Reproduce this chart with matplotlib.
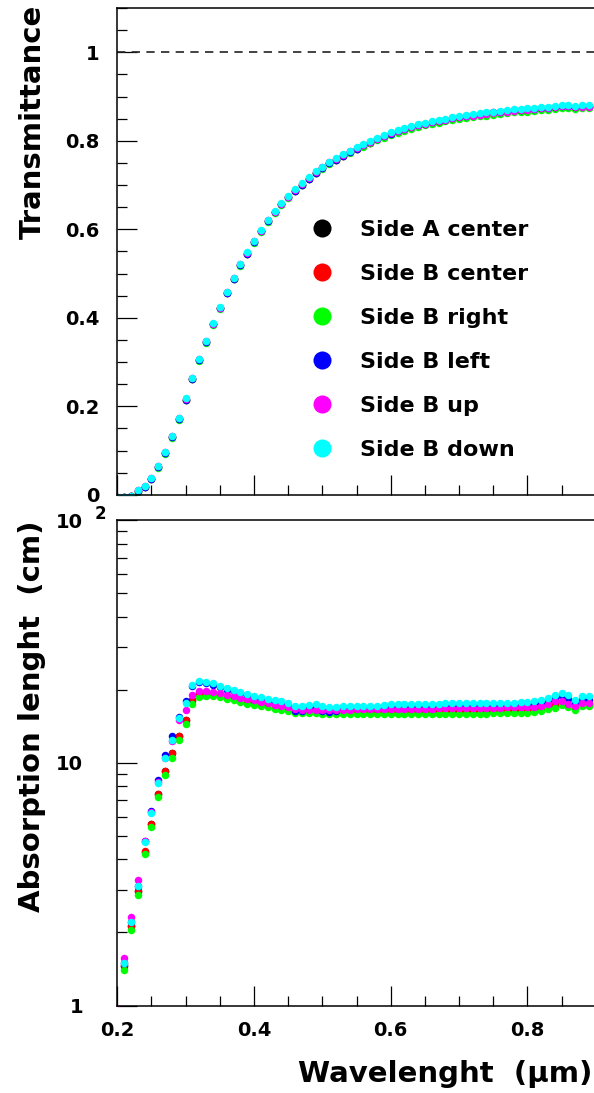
import matplotlib
matplotlib.use("Agg")
import matplotlib.pyplot as plt
from matplotlib import ticker
from matplotlib.lines import Line2D

plt.rcParams['font.family'] = ['DejaVu Sans']
plt.rcParams['font.weight'] = 'bold'
plt.rcParams['axes.labelweight'] = 'bold'

# wavelength grid (um)
wavelength = [0.20, 0.21, 0.22, 0.23, 0.24, 0.25, 0.26, 0.27, 0.28, 0.29,
              0.30, 0.31, 0.32, 0.33, 0.34, 0.35, 0.36, 0.37, 0.38, 0.39,
              0.40, 0.41, 0.42, 0.43, 0.44, 0.45, 0.46, 0.47, 0.48, 0.49,
              0.50, 0.51, 0.52, 0.53, 0.54, 0.55, 0.56, 0.57, 0.58, 0.59,
              0.60, 0.61, 0.62, 0.63, 0.64, 0.65, 0.66, 0.67, 0.68, 0.69,
              0.70, 0.71, 0.72, 0.73, 0.74, 0.75, 0.76, 0.77, 0.78, 0.79,
              0.80, 0.81, 0.82, 0.83, 0.84, 0.85, 0.86, 0.87, 0.88, 0.89]

labels = ['Side A center', 'Side B center', 'Side B right',
          'Side B left', 'Side B up', 'Side B down']
colors = ['#000000', '#ff0000', '#00ff00', '#0000ff', '#ff00ff', '#00ffff']

# transmittance
T_a_center = [-0.005, -0.004, -0.003, 0.008, 0.018, 0.036, 0.062, 0.094, 0.130, 0.171,
              0.215, 0.262, 0.304, 0.345, 0.385, 0.421, 0.456, 0.488, 0.519, 0.545,
              0.571, 0.595, 0.618, 0.638, 0.656, 0.672, 0.687, 0.701, 0.714, 0.728,
              0.738, 0.749, 0.757, 0.766, 0.774, 0.782, 0.789, 0.796, 0.803, 0.809,
              0.815, 0.820, 0.825, 0.829, 0.833, 0.837, 0.840, 0.843, 0.846, 0.849,
              0.852, 0.854, 0.856, 0.858, 0.860, 0.862, 0.864, 0.865, 0.867, 0.868,
              0.869, 0.870, 0.872, 0.873, 0.875, 0.877, 0.877, 0.875, 0.876, 0.876]
T_b_center = [-0.005, -0.004, -0.003, 0.008, 0.018, 0.036, 0.062, 0.094, 0.130, 0.171,
              0.215, 0.262, 0.304, 0.345, 0.385, 0.421, 0.456, 0.488, 0.519, 0.545,
              0.571, 0.595, 0.618, 0.638, 0.656, 0.672, 0.687, 0.701, 0.714, 0.728,
              0.738, 0.749, 0.757, 0.766, 0.774, 0.782, 0.789, 0.796, 0.803, 0.809,
              0.815, 0.820, 0.825, 0.829, 0.833, 0.837, 0.840, 0.843, 0.846, 0.849,
              0.852, 0.854, 0.856, 0.858, 0.860, 0.862, 0.864, 0.865, 0.867, 0.868,
              0.869, 0.870, 0.872, 0.873, 0.875, 0.877, 0.877, 0.875, 0.876, 0.876]
T_b_right = [-0.005, -0.004, -0.003, 0.007, 0.017, 0.035, 0.061, 0.093, 0.129, 0.170,
             0.214, 0.261, 0.303, 0.344, 0.384, 0.420, 0.455, 0.487, 0.518, 0.544,
             0.570, 0.594, 0.617, 0.637, 0.655, 0.671, 0.686, 0.700, 0.713, 0.727,
             0.737, 0.748, 0.756, 0.765, 0.773, 0.781, 0.787, 0.794, 0.801, 0.807,
             0.813, 0.818, 0.823, 0.827, 0.831, 0.835, 0.838, 0.841, 0.844, 0.847,
             0.849, 0.851, 0.853, 0.855, 0.857, 0.859, 0.861, 0.862, 0.864, 0.865,
             0.866, 0.867, 0.869, 0.870, 0.872, 0.874, 0.874, 0.872, 0.873, 0.873]
T_b_left = [-0.005, -0.004, -0.003, 0.008, 0.018, 0.036, 0.062, 0.094, 0.130, 0.171,
            0.215, 0.262, 0.304, 0.345, 0.385, 0.421, 0.456, 0.488, 0.519, 0.545,
            0.571, 0.595, 0.618, 0.638, 0.656, 0.672, 0.687, 0.701, 0.714, 0.728,
            0.738, 0.749, 0.757, 0.766, 0.774, 0.782, 0.790, 0.797, 0.804, 0.810,
            0.816, 0.822, 0.827, 0.831, 0.835, 0.839, 0.842, 0.845, 0.848, 0.851,
            0.854, 0.856, 0.858, 0.860, 0.862, 0.864, 0.866, 0.867, 0.869, 0.870,
            0.871, 0.872, 0.874, 0.875, 0.877, 0.879, 0.879, 0.877, 0.878, 0.878]
T_b_up = [-0.005, -0.004, -0.003, 0.010, 0.020, 0.038, 0.064, 0.096, 0.132, 0.173,
          0.217, 0.264, 0.306, 0.347, 0.387, 0.423, 0.458, 0.490, 0.521, 0.547,
          0.573, 0.597, 0.620, 0.640, 0.658, 0.674, 0.689, 0.703, 0.716, 0.730,
          0.740, 0.751, 0.759, 0.768, 0.776, 0.784, 0.791, 0.798, 0.805, 0.811,
          0.817, 0.822, 0.827, 0.831, 0.835, 0.839, 0.842, 0.845, 0.848, 0.851,
          0.853, 0.855, 0.857, 0.859, 0.861, 0.863, 0.865, 0.866, 0.868, 0.869,
          0.870, 0.871, 0.873, 0.874, 0.876, 0.878, 0.878, 0.876, 0.877, 0.877]
T_b_down = [-0.005, -0.004, -0.003, 0.011, 0.021, 0.039, 0.065, 0.097, 0.133, 0.174,
            0.218, 0.265, 0.307, 0.348, 0.388, 0.424, 0.459, 0.491, 0.522, 0.548,
            0.574, 0.598, 0.621, 0.641, 0.659, 0.675, 0.690, 0.704, 0.717, 0.731,
            0.741, 0.752, 0.760, 0.769, 0.777, 0.785, 0.793, 0.800, 0.807, 0.813,
            0.819, 0.824, 0.829, 0.833, 0.837, 0.841, 0.844, 0.847, 0.850, 0.853,
            0.856, 0.858, 0.860, 0.862, 0.864, 0.866, 0.868, 0.869, 0.871, 0.872,
            0.873, 0.874, 0.876, 0.877, 0.879, 0.881, 0.881, 0.879, 0.880, 0.880]

# absorption length (cm)
L_a_center = [0.93, 1.46, 2.12, 2.96, 4.30, 5.60, 7.45, 9.25, 10.95, 12.90,
              15.0, 18.1, 19.3, 19.4, 19.3, 19.0, 18.7, 18.4, 18.2, 17.9,
              17.7, 17.5, 17.3, 17.1, 16.9, 16.7, 16.4, 16.3, 16.3, 16.3,
              16.2, 16.2, 16.2, 16.25, 16.3, 16.3, 16.3, 16.35, 16.35, 16.35,
              16.4, 16.4, 16.4, 16.4, 16.4, 16.4, 16.45, 16.45, 16.45, 16.45,
              16.5, 16.5, 16.5, 16.5, 16.5, 16.55, 16.55, 16.55, 16.55, 16.6,
              16.6, 16.65, 16.75, 17.05, 17.45, 17.55, 17.05, 16.75, 17.35, 17.35]
L_b_center = [0.93, 1.47, 2.13, 2.95, 4.31, 5.61, 7.43, 9.21, 10.96, 12.92,
              15.04, 18.2, 19.4, 19.5, 19.3, 19.1, 18.8, 18.5, 18.2, 18.0,
              17.8, 17.5, 17.3, 17.1, 16.9, 16.75, 16.4, 16.3, 16.3, 16.3,
              16.2, 16.2, 16.2, 16.3, 16.3, 16.35, 16.35, 16.35, 16.35, 16.4,
              16.4, 16.4, 16.4, 16.4, 16.4, 16.45, 16.45, 16.45, 16.45, 16.5,
              16.5, 16.5, 16.5, 16.5, 16.55, 16.55, 16.55, 16.55, 16.6, 16.6,
              16.6, 16.7, 16.8, 17.1, 17.5, 17.6, 17.1, 16.8, 17.4, 17.4]
L_b_right = [0.90, 1.40, 2.05, 2.86, 4.21, 5.43, 7.22, 8.92, 10.45, 12.44,
             14.44, 17.4, 18.6, 18.9, 18.8, 18.6, 18.3, 18.1, 17.75, 17.5,
             17.35, 17.1, 16.9, 16.65, 16.55, 16.4, 16.1, 16.0, 16.0, 16.0,
             15.9, 15.9, 15.9, 15.95, 15.95, 15.95, 15.95, 15.95, 15.95, 15.95,
             15.95, 15.95, 15.95, 15.95, 15.95, 15.95, 15.95, 15.95, 15.95, 15.95,
             15.95, 15.95, 15.95, 15.95, 15.95, 16.0, 16.0, 16.0, 16.0, 16.0,
             16.0, 16.2, 16.3, 16.6, 16.8, 17.35, 16.9, 16.5, 17.1, 17.1]
L_b_left = [0.95, 1.50, 2.20, 3.11, 4.75, 6.30, 8.51, 10.79, 12.84, 15.5,
            18.0, 20.8, 21.5, 21.3, 21.0, 20.5, 20.0, 19.7, 19.3, 18.9,
            18.6, 18.3, 18.0, 17.8, 17.5, 17.2, 16.3, 16.3, 16.8, 17.0,
            16.3, 16.2, 16.3, 16.8, 16.9, 17.0, 17.0, 17.0, 17.0, 17.1,
            17.1, 17.1, 17.1, 17.1, 17.1, 17.1, 17.1, 17.15, 17.15, 17.15,
            17.2, 17.2, 17.2, 17.2, 17.25, 17.25, 17.25, 17.3, 17.3, 17.3,
            17.3, 17.4, 17.6, 17.9, 18.5, 18.8, 18.3, 17.6, 18.2, 18.2]
L_b_up = [0.97, 1.565, 2.31, 3.29, 4.77, 6.24, 8.30, 10.45, 12.24, 15.0,
          16.5, 19.0, 19.7, 19.8, 19.55, 19.4, 19.1, 18.8, 18.5, 18.3,
          18.1, 17.8, 17.6, 17.35, 17.2, 17.0, 16.65, 16.55, 16.55, 16.55,
          16.45, 16.45, 16.45, 16.55, 16.55, 16.6, 16.6, 16.6, 16.6, 16.65,
          16.7, 16.7, 16.7, 16.7, 16.7, 16.7, 16.7, 16.75, 16.75, 16.75,
          16.8, 16.8, 16.8, 16.8, 16.85, 16.85, 16.85, 16.9, 16.9, 16.9,
          16.95, 17.0, 17.1, 17.4, 17.9, 17.9, 17.4, 17.1, 17.7, 17.7]
L_b_down = [0.95, 1.50, 2.20, 3.11, 4.71, 6.20, 8.25, 10.45, 12.44, 15.29,
            17.6, 20.9, 21.8, 21.6, 21.3, 20.8, 20.3, 20.0, 19.6, 19.2,
            18.9, 18.6, 18.3, 18.2, 17.9, 17.7, 17.2, 17.2, 17.35, 17.5,
            17.1, 16.9, 16.9, 17.1, 17.1, 17.2, 17.2, 17.2, 17.2, 17.35,
            17.5, 17.5, 17.5, 17.5, 17.5, 17.5, 17.5, 17.5, 17.6, 17.6,
            17.6, 17.6, 17.6, 17.7, 17.7, 17.7, 17.7, 17.7, 17.7, 17.8,
            17.8, 17.9, 18.1, 18.4, 19.1, 19.4, 19.1, 18.2, 18.8, 18.8]

trans = [T_a_center, T_b_center, T_b_right, T_b_left, T_b_up, T_b_down]
absl = [L_a_center, L_b_center, L_b_right, L_b_left, L_b_up, L_b_down]

W, H = 594, 1093
fig = plt.figure(figsize=(W / 100, H / 100), dpi=100)
x0 = 117.3 / W
wid = 478.5 / W
ax1 = fig.add_axes([x0, 1 - 494.8 / H, wid, 486.8 / H])
ax2 = fig.add_axes([x0, 1 - 1005.5 / H, wid, 485.5 / H])

for ax in (ax1, ax2):
    ax.set_xlim(0.2, 0.9)
    ax.spines['right'].set_visible(False)
    for s in ('left', 'bottom', 'top'):
        ax.spines[s].set_linewidth(1.1)
    ax.xaxis.set_major_locator(ticker.MultipleLocator(0.2))
    ax.xaxis.set_minor_locator(ticker.MultipleLocator(0.05))
    ax.tick_params(which='both', direction='in', top=False, right=False, width=0.9)
    ax.tick_params(which='major', length=14.4, labelsize=14)
    ax.tick_params(which='minor', length=7.2)

# top panel
for y, c in zip(trans, colors):
    ax1.plot(wavelength, y, 'o', color=c, ms=5.4, mew=0)
ax1.axhline(1.0, color='#222222', lw=1.2, ls=(0, (5, 3.8)))
ax1.set_ylim(0, 1.1)
ax1.yaxis.set_major_locator(ticker.MultipleLocator(0.2))
ax1.yaxis.set_minor_locator(ticker.MultipleLocator(0.05))
ax1.yaxis.set_major_formatter(ticker.FuncFormatter(lambda v, p: f'{v:g}'))
ax1.tick_params(axis='x', labelbottom=False)
ax1.tick_params(axis='y', pad=13)
ax1.set_ylabel('Transmittance', fontsize=21, fontweight='bold', ha='right')
ax1.yaxis.set_label_coords(-0.148, 1.006)

handles = [Line2D([], [], marker='o', ls='', color=c, ms=13, mew=0) for c in colors]
ax1.legend(handles, labels, loc='upper left', bbox_to_anchor=(311 / W, 1 - 220 / H),
           bbox_transform=fig.transFigure, frameon=False, borderpad=0,
           borderaxespad=0, handlelength=1.0, handletextpad=1.2,
           labelspacing=1.08, prop={'size': 16, 'weight': 'bold'})

# bottom panel
for y, c in zip(absl, colors):
    ax2.plot(wavelength, y, 'o', color=c, ms=5.4, mew=0)
ax2.set_yscale('log')
ax2.set_ylim(1, 100)
ax2.yaxis.set_major_locator(ticker.FixedLocator([1, 10, 100]))
ax2.yaxis.set_major_formatter(ticker.FixedFormatter(['1', '10', '10']))
ax2.yaxis.set_minor_locator(ticker.LogLocator(base=10, subs=range(2, 10)))
ax2.yaxis.set_minor_formatter(ticker.NullFormatter())
ax2.tick_params(axis='y', pad=24.5)
ax2.tick_params(axis='x', pad=11)
ax2.set_ylabel('Absorption lenght  (cm)', fontsize=21, fontweight='bold', ha='right')
ax2.yaxis.set_label_coords(-0.148, 1.0)
fig.text(100 / W, 1 - 514 / H, '2', fontsize=12, fontweight='bold',
         ha='center', va='center')

fig.text(0.998, 1 - 1081.7 / H, 'Wavelenght  (μm)', fontsize=21,
         fontweight='bold', ha='right', va='baseline')

fig.savefig('out.png', dpi=100)
